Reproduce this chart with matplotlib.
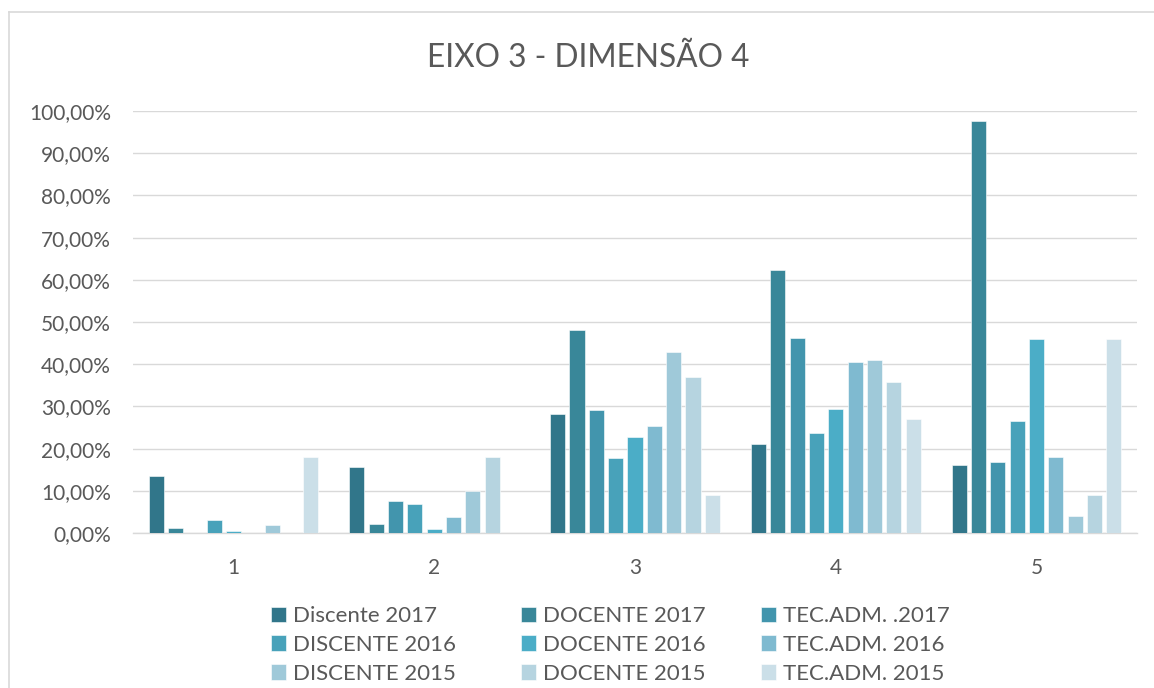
import matplotlib
matplotlib.use("Agg")
import matplotlib.pyplot as plt
import numpy as np
from matplotlib.ticker import FuncFormatter
from matplotlib.lines import Line2D

plt.rcParams['font.family'] = ['Lato', 'DejaVu Sans']

categories = ["1", "2", "3", "4", "5"]
series_names = ["Discente 2017", "DOCENTE 2017", "TEC.ADM. .2017",
                "DISCENTE 2016", "DOCENTE 2016", "TEC.ADM. 2016",
                "DISCENTE 2015", "DOCENTE 2015", "TEC.ADM. 2015"]
discente_2017 = [13.6, 15.6, 28.2, 21.1, 16.0]
docente_2017 = [1.1, 2.2, 48.2, 62.3, 97.6]
tecadm_2017 = [0.0, 7.7, 29.1, 46.1, 16.8]
discente_2016 = [3.0, 6.9, 17.8, 23.7, 26.5]
docente_2016 = [0.5, 1.0, 22.7, 29.4, 46.0]
tecadm_2016 = [0.0, 3.9, 25.3, 40.6, 17.9]
discente_2015 = [1.9, 10.0, 42.9, 40.9, 4.0]
docente_2015 = [0.0, 17.9, 36.9, 35.9, 8.9]
tecadm_2015 = [17.9, 0.0, 8.9, 26.9, 46.0]
series_values = [discente_2017, docente_2017, tecadm_2017,
                 discente_2016, docente_2016, tecadm_2016,
                 discente_2015, docente_2015, tecadm_2015]
colors = ["#31768A", "#398799", "#4295AD", "#48A2BA", "#4BADC7",
          "#7FBAD0", "#9FC9D9", "#B6D4E0", "#CBDFE8"]
y_ticks = [0, 10, 20, 30, 40, 50, 60, 70, 80, 90, 100]

W, H = 1154, 688
fig = plt.figure(figsize=(W / 100, H / 100), dpi=100)
fig.patch.set_facecolor("white")

# chart border (left and top visible)
fig.add_artist(Line2D([9 / W, 9 / W], [0, 1 - 12 / H], transform=fig.transFigure,
                      color="#D9D9D9", lw=1.2))
fig.add_artist(Line2D([9 / W, 1], [1 - 12 / H, 1 - 12 / H], transform=fig.transFigure,
                      color="#D9D9D9", lw=1.2))

left, right, top, bottom = 133, 1137, 111, 533
ax = fig.add_axes([left / W, 1 - bottom / H, (right - left) / W, (bottom - top) / H])

x = np.arange(len(categories))
step = 0.0963
width = 0.075
handles = []
for i, (vals, c) in enumerate(zip(series_values, colors)):
    b = ax.bar(x + (i - 4) * step, vals, width=width, color=c,
               edgecolor="#FFFFFF", linewidth=0.4, zorder=3, label=series_names[i])
    handles.append(b)

ax.set_xlim(-0.5, len(categories) - 0.5)
ax.set_ylim(0, 100)
ax.set_yticks(y_ticks)
ax.yaxis.set_major_formatter(FuncFormatter(lambda v, p: f"{v:.2f}%".replace(".", ",")))
ax.set_xticks(x)
ax.set_xticklabels(categories)
ax.grid(axis="y", color="#D9D9D9", linewidth=1.0, zorder=0)
for s in ["top", "right", "left"]:
    ax.spines[s].set_visible(False)
ax.spines["bottom"].set_color("#D9D9D9")
ax.spines["bottom"].set_linewidth(1.0)
ax.tick_params(axis="both", length=0, labelsize=15, colors="#595959")
ax.tick_params(axis="y", pad=16)
ax.tick_params(axis="x", pad=18)

fig.text(588 / W, 1 - 58 / H, "EIXO 3 - DIMENSÃO 4", ha="center", va="center",
         fontsize=22.8, color="#595959")

col_x = [271, 521, 761]
for col in range(3):
    hs = [handles[col + 3 * r] for r in range(3)]
    ls = [series_names[col + 3 * r] for r in range(3)]
    fig.legend(hs, ls, loc="upper left", bbox_to_anchor=(col_x[col] / W, 1 - 606 / H),
               frameon=False, fontsize=16, labelcolor="#595959",
               handlelength=0.68, handleheight=0.68, handletextpad=0.3,
               labelspacing=0.4, borderpad=0, borderaxespad=0)

fig.savefig("out.png", dpi=100, facecolor="white")
